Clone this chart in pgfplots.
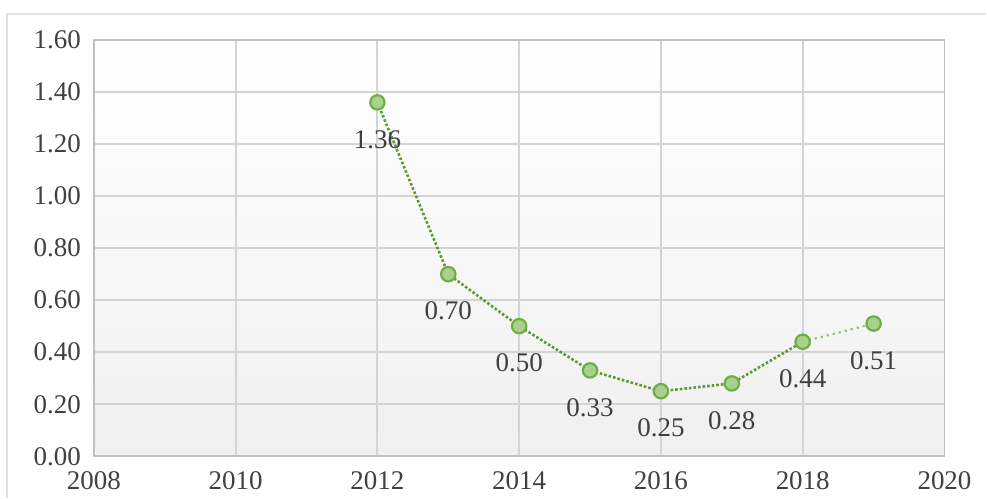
\documentclass[border=0pt]{standalone}
\usepackage{fontspec}
\setmainfont{Liberation Serif}
\usepackage{pgfplots}
\pgfplotsset{compat=1.18}
\definecolor{gridgray}{HTML}{D4D4D4}
\definecolor{axgray}{HTML}{C0C0C0}
\definecolor{txtgray}{HTML}{404040}
\definecolor{linegreen}{HTML}{5E9A34}
\definecolor{markfill}{HTML}{A9D18E}
\definecolor{markedge}{HTML}{70AD47}
\begin{document}
\begin{tikzpicture}
\path (-47pt,-20.5pt) rectangle (446.5pt,228.5pt);
\draw[gridgray!70, line width=0.6pt] (-43.5pt,-21pt) -- (-43.5pt,221.5pt) -- (447pt,221.5pt);
\begin{axis}[
    at={(0,0)}, anchor=origin,
    scale only axis,
    width=426pt, height=208.5pt,
    xmin=2008, xmax=2020, ymin=0, ymax=1.6,
    xtick={2008,2010,...,2020},
    ytick={0,0.2,...,1.6},
    grid=major,
    grid style={gridgray, line width=0.9pt},
    axis line style={axgray, line width=0.9pt},
    major tick length=0pt,
    axis background/.style={top color=white, bottom color=black!6},
    tick label style={font=\fontsize{13.5}{16}\selectfont, text=txtgray},
    /pgf/number format/assume math mode=true,
    x tick label style={/pgf/number format/1000 sep=, yshift=-4pt},
    y tick label style={xshift=-3pt, /pgf/number format/.cd, fixed, fixed zerofill, precision=2},
    clip=false,
]
\addplot[markedge!75, line width=1.1pt, dotted, forget plot]
    coordinates {(2018,0.44) (2019,0.51)};
\addplot[linegreen, line width=1.3pt, densely dotted, forget plot]
    coordinates {(2012,1.36) (2013,0.70) (2014,0.50) (2015,0.33) (2016,0.25) (2017,0.28) (2018,0.44)};
\addplot[only marks, mark=*, mark size=3.6pt,
    mark options={fill=markfill, draw=markedge, line width=1.1pt},
    nodes near coords,
    point meta=explicit symbolic,
    every node near coord/.append style={anchor=center, yshift=-18.5pt,
        font=\fontsize{13.5}{16}\selectfont, text=txtgray}]
    coordinates {(2012,1.36) [1.36] (2013,0.70) [0.70] (2014,0.50) [0.50]
        (2015,0.33) [0.33] (2016,0.25) [0.25] (2017,0.28) [0.28]
        (2018,0.44) [0.44] (2019,0.51) [0.51]};
\end{axis}
\end{tikzpicture}
\end{document}
